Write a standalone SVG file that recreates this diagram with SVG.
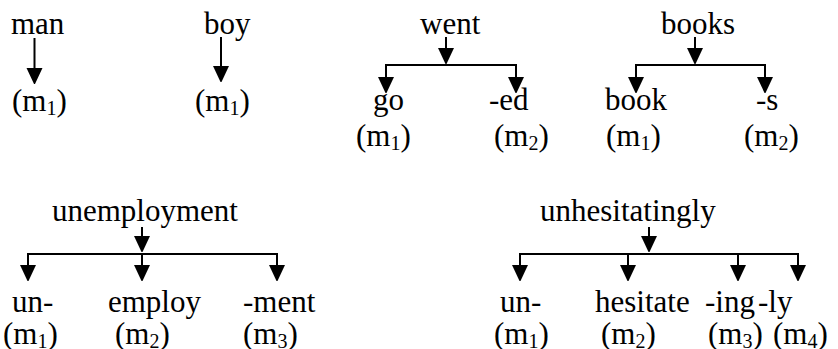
<svg xmlns="http://www.w3.org/2000/svg" width="838" height="349" viewBox="0 0 838 349">
<style>
.t text{font-family:'Liberation Serif','DejaVu Serif',serif;font-size:31px;fill:#000}
.t .s{font-size:20px}
.c line{stroke:#000;stroke-width:2;fill:none}
.a{marker-end:url(#ah)}
</style>
<defs>
<marker id="ah" viewBox="0 0 16 17" refX="14" refY="8" markerWidth="16" markerHeight="17" markerUnits="userSpaceOnUse" orient="auto">
<path d="M0,0 L17,8 L0,16 z" fill="#000"/>
</marker>
</defs>
<rect width="838" height="349" fill="#fff"/>
<g id="connectors" class="c">
<line class="a" x1="34.5" y1="38" x2="34.5" y2="82"/>
<line class="a" x1="221" y1="37" x2="221" y2="80"/>
<line class="a" x1="446" y1="37" x2="446" y2="62"/>
<line x1="386" y1="65" x2="516" y2="65"/>
<line class="a" x1="386" y1="64" x2="386" y2="91"/>
<line class="a" x1="516" y1="64" x2="516" y2="91"/>
<line class="a" x1="695" y1="37" x2="695" y2="62"/>
<line x1="636" y1="65" x2="765" y2="65"/>
<line class="a" x1="636" y1="64" x2="636" y2="91"/>
<line class="a" x1="765" y1="64" x2="765" y2="91"/>
<line class="a" x1="142" y1="227" x2="142" y2="250"/>
<line x1="28" y1="254" x2="277" y2="254"/>
<line class="a" x1="28" y1="253" x2="28" y2="279"/>
<line class="a" x1="142" y1="253" x2="142" y2="279"/>
<line class="a" x1="277" y1="253" x2="277" y2="279"/>
<line class="a" x1="649" y1="227" x2="649" y2="250"/>
<line x1="520" y1="254" x2="798" y2="254"/>
<line class="a" x1="520" y1="253" x2="520" y2="279"/>
<line class="a" x1="628" y1="253" x2="628" y2="279"/>
<line class="a" x1="738" y1="253" x2="738" y2="279"/>
<line class="a" x1="798" y1="253" x2="798" y2="279"/>
</g>
<g class="t" font-family="'Liberation Serif','DejaVu Serif',serif">
<g id="man"><text x="11" y="34">man</text><text x="12" y="111">(m<tspan class="s" dy="4">1</tspan><tspan dy="-4">)</tspan></text></g>
<g id="boy"><text x="204" y="34">boy</text><text x="195" y="111">(m<tspan class="s" dy="4">1</tspan><tspan dy="-4">)</tspan></text></g>
<g id="went"><text x="420" y="34">went</text></g>
<g id="go"><text x="373" y="110">go</text><text x="356" y="146">(m<tspan class="s" dy="4">1</tspan><tspan dy="-4">)</tspan></text></g>
<g id="ed"><text x="489" y="110">-ed</text><text x="494" y="146">(m<tspan class="s" dy="4">2</tspan><tspan dy="-4">)</tspan></text></g>
<g id="books"><text x="661" y="34">books</text></g>
<g id="book"><text x="605" y="110">book</text><text x="606" y="146">(m<tspan class="s" dy="4">1</tspan><tspan dy="-4">)</tspan></text></g>
<g id="s"><text x="756" y="110">-s</text><text x="744" y="146">(m<tspan class="s" dy="4">2</tspan><tspan dy="-4">)</tspan></text></g>
<g id="unemployment"><text x="52" y="221">unemployment</text></g>
<g id="un1"><text x="12" y="312">un-</text><text x="3" y="344">(m<tspan class="s" dy="4">1</tspan><tspan dy="-4">)</tspan></text></g>
<g id="employ"><text x="108" y="312">employ</text><text x="115" y="344">(m<tspan class="s" dy="4">2</tspan><tspan dy="-4">)</tspan></text></g>
<g id="ment"><text x="243" y="312">-ment</text><text x="243" y="344">(m<tspan class="s" dy="4">3</tspan><tspan dy="-4">)</tspan></text></g>
<g id="unhesitatingly"><text x="540" y="221">unhesitatingly</text></g>
<g id="un2"><text x="500" y="312">un-</text><text x="494" y="344">(m<tspan class="s" dy="4">1</tspan><tspan dy="-4">)</tspan></text></g>
<g id="hesitate"><text x="595" y="312">hesitate</text><text x="601" y="344">(m<tspan class="s" dy="4">2</tspan><tspan dy="-4">)</tspan></text></g>
<g id="ing"><text x="705" y="312">-ing</text><text x="708" y="344">(m<tspan class="s" dy="4">3</tspan><tspan dy="-4">)</tspan></text></g>
<g id="ly"><text x="758" y="312">-ly</text><text x="773" y="344">(m<tspan class="s" dy="4">4</tspan><tspan dy="-4">)</tspan></text></g>
</g>
</svg>
